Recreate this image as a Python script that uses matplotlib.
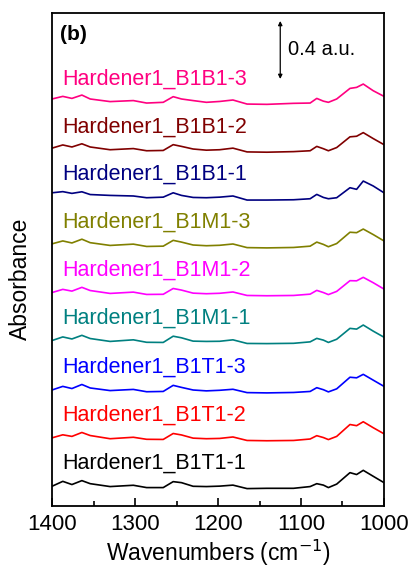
import matplotlib
matplotlib.use('Agg')
import matplotlib.pyplot as plt
from matplotlib.ticker import MultipleLocator

plt.rcParams['font.family'] = ['Liberation Sans', 'DejaVu Sans']

# wavenumber grid (cm-1)
wn = [1400, 1387, 1376, 1364, 1354, 1330, 1302, 1286, 1266, 1254, 1244, 1230,
      1214, 1198, 1182, 1165, 1141, 1109, 1089, 1081, 1073, 1067, 1057, 1041,
      1033, 1025, 1013, 1000]

# absorbance (a.u.) above each spectrum's own baseline
b1t1_1 = [0.016, 0.050, 0.028, 0.055, 0.034, 0.014, 0.023, 0.007, 0.007, 0.048,
          0.041, 0.016, 0.014, 0.017, 0.024, 0.000, 0.002, 0.002, 0.014, 0.034,
          0.024, 0.007, 0.031, 0.110, 0.097, 0.126, 0.085, 0.041]
b1t1_2 = [0.020, 0.041, 0.030, 0.057, 0.036, 0.014, 0.024, 0.010, 0.009, 0.050,
          0.040, 0.018, 0.014, 0.016, 0.026, 0.002, 0.000, 0.002, 0.012, 0.035,
          0.022, 0.008, 0.030, 0.112, 0.104, 0.131, 0.090, 0.048]
b1t1_3 = [0.020, 0.045, 0.030, 0.058, 0.034, 0.016, 0.024, 0.008, 0.010, 0.052,
          0.038, 0.020, 0.014, 0.018, 0.025, 0.002, 0.000, 0.003, 0.010, 0.036,
          0.022, 0.007, 0.028, 0.108, 0.104, 0.128, 0.088, 0.045]
b1m1_1 = [0.021, 0.046, 0.032, 0.057, 0.035, 0.015, 0.026, 0.009, 0.008, 0.051,
          0.040, 0.017, 0.015, 0.016, 0.026, 0.001, 0.000, 0.002, 0.012, 0.036,
          0.024, 0.008, 0.030, 0.105, 0.100, 0.128, 0.086, 0.044]
b1m1_2 = [0.022, 0.044, 0.032, 0.058, 0.036, 0.016, 0.025, 0.009, 0.010, 0.050,
          0.039, 0.018, 0.014, 0.017, 0.026, 0.002, 0.000, 0.002, 0.011, 0.037,
          0.022, 0.008, 0.030, 0.104, 0.103, 0.127, 0.090, 0.046]
b1m1_3 = [0.028, 0.048, 0.034, 0.060, 0.036, 0.017, 0.026, 0.010, 0.012, 0.052,
          0.040, 0.020, 0.015, 0.018, 0.027, 0.002, 0.000, 0.003, 0.012, 0.040,
          0.024, 0.008, 0.030, 0.108, 0.105, 0.130, 0.092, 0.048]
b1b1_1 = [0.050, 0.058, 0.046, 0.057, 0.038, 0.032, 0.028, 0.016, 0.020, 0.050,
          0.032, 0.018, 0.016, 0.020, 0.028, 0.000, 0.000, 0.002, 0.009, 0.039,
          0.018, 0.009, 0.016, 0.085, 0.074, 0.131, 0.097, 0.050]
b1b1_2 = [0.028, 0.050, 0.036, 0.058, 0.036, 0.017, 0.025, 0.010, 0.012, 0.052,
          0.040, 0.022, 0.014, 0.017, 0.028, 0.002, 0.000, 0.004, 0.010, 0.040,
          0.024, 0.010, 0.032, 0.106, 0.110, 0.135, 0.094, 0.052]
b1b1_3 = [0.037, 0.055, 0.041, 0.064, 0.037, 0.019, 0.026, 0.009, 0.014, 0.053,
          0.037, 0.026, 0.014, 0.020, 0.030, 0.002, 0.000, 0.007, 0.009, 0.041,
          0.022, 0.014, 0.037, 0.110, 0.117, 0.140, 0.094, 0.055]

names = ['Hardener1_B1T1-1', 'Hardener1_B1T1-2', 'Hardener1_B1T1-3',
         'Hardener1_B1M1-1', 'Hardener1_B1M1-2', 'Hardener1_B1M1-3',
         'Hardener1_B1B1-1', 'Hardener1_B1B1-2', 'Hardener1_B1B1-3']
spectra = [b1t1_1, b1t1_2, b1t1_3, b1m1_1, b1m1_2, b1m1_3, b1b1_1, b1b1_2, b1b1_3]
offsets = [0.12, 0.45, 0.78, 1.12, 1.45, 1.78, 2.11, 2.44, 2.77]
colors = ['#000000', '#FF0000', '#0000FF', '#008080', '#FF00FF', '#808000',
          '#000080', '#800000', '#FF0080']

fig = plt.figure(figsize=(4.1, 5.68), dpi=100)
ax = fig.add_axes([52 / 410, 62 / 568, 332 / 410, 493 / 568])

for y, off, c, name in zip(spectra, offsets, colors, names):
    ax.plot(wn, [v + off for v in y], color=c, lw=1.2)
    ax.text(1388, off + 0.175, name, color=c, fontsize=15.5, va='center', ha='left')

ax.set_xlim(1400, 1000)
ax.set_ylim(0, 3.4)
ax.xaxis.set_major_locator(MultipleLocator(100))
ax.xaxis.set_minor_locator(MultipleLocator(50))
ax.tick_params(axis='x', which='major', direction='in', length=6, width=1.2,
               labelsize=16, pad=6)
ax.tick_params(axis='x', which='minor', direction='in', length=3.5, width=1.2)
ax.set_yticks([])
for s in ax.spines.values():
    s.set_linewidth(1.3)

ax.set_xlabel('Wavenumbers (cm$^{-1}$)', fontsize=16.5, labelpad=2)
ax.set_ylabel('Absorbance', fontsize=16.5)
ax.yaxis.set_label_coords(-0.06, 0.46)

# scale bar: 0.4 a.u.
ax.annotate('', xy=(1125, 2.945), xytext=(1125, 3.345),
            arrowprops=dict(arrowstyle='<|-|>', color='black', lw=0.9,
                            mutation_scale=6, shrinkA=0, shrinkB=0))
ax.text(1116, 3.145, '0.4 a.u.', fontsize=14.5, va='center', ha='left')
ax.text(1390, 3.25, '(b)', fontsize=15, fontweight='bold', va='center', ha='left')

fig.savefig('out.png', dpi=100)
